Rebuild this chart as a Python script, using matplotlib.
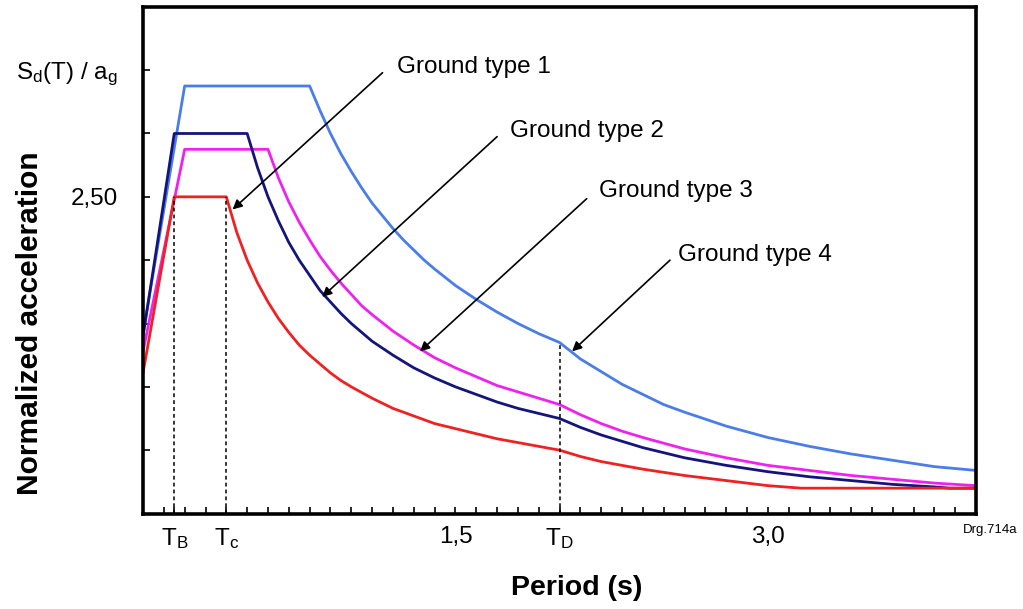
import matplotlib
matplotlib.use("Agg")
import matplotlib.pyplot as plt
import numpy as np

plt.rcParams['font.family'] = ['Liberation Sans', 'DejaVu Sans']
plt.rcParams['mathtext.fontset'] = 'custom'
plt.rcParams['mathtext.rm'] = 'Liberation Sans'
plt.rcParams['mathtext.it'] = 'Liberation Sans:italic'
plt.rcParams['mathtext.bf'] = 'Liberation Sans:bold'
plt.rcParams['mathtext.default'] = 'regular'

# periods (s) and normalized spectral values
t_red = [0, 0.15, 0.4, 0.45, 0.5, 0.55, 0.6, 0.65, 0.7, 0.75, 0.8, 0.85, 0.9, 0.95, 1.0, 1.1, 1.2, 1.3, 1.4,
         1.5, 1.6, 1.7, 1.8, 1.9, 2.0, 2.1, 2.2, 2.3, 2.4, 2.6, 2.8, 3.0, 3.16, 3.5, 4.0]
sd_red = [1.11, 2.5, 2.5, 2.22, 2.0, 1.82, 1.67, 1.54, 1.43, 1.33, 1.25, 1.18, 1.11, 1.05, 1.0, 0.91, 0.83, 0.77, 0.71,
          0.67, 0.63, 0.59, 0.56, 0.53, 0.5, 0.45, 0.41, 0.38, 0.35, 0.30, 0.26, 0.22, 0.2, 0.2, 0.2]

t_navy = [0, 0.15, 0.5, 0.55, 0.6, 0.65, 0.7, 0.75, 0.8, 0.85, 0.9, 0.95, 1.0, 1.05, 1.1, 1.2, 1.3, 1.4, 1.5,
          1.6, 1.7, 1.8, 1.9, 2.0, 2.1, 2.2, 2.3, 2.4, 2.6, 2.8, 3.0, 3.2, 3.4, 3.6, 3.8, 3.87, 4.0]
sd_navy = [1.40, 3.0, 3.0, 2.73, 2.5, 2.31, 2.14, 2.0, 1.88, 1.76, 1.67, 1.58, 1.5, 1.43, 1.36, 1.25, 1.15, 1.07, 1.0,
           0.94, 0.88, 0.83, 0.79, 0.75, 0.68, 0.62, 0.57, 0.52, 0.44, 0.38, 0.33, 0.29, 0.26, 0.23, 0.21, 0.2, 0.2]

t_pink = [0, 0.2, 0.6, 0.65, 0.7, 0.75, 0.8, 0.85, 0.9, 0.95, 1.0, 1.05, 1.1, 1.2, 1.3, 1.4, 1.5, 1.6,
          1.7, 1.8, 1.9, 2.0, 2.1, 2.2, 2.3, 2.4, 2.6, 2.8, 3.0, 3.2, 3.4, 3.6, 3.8, 4.0]
sd_pink = [1.28, 2.875, 2.875, 2.65, 2.46, 2.30, 2.16, 2.03, 1.92, 1.82, 1.73, 1.64, 1.57, 1.44, 1.33, 1.23, 1.15, 1.08,
           1.01, 0.96, 0.91, 0.86, 0.78, 0.71, 0.65, 0.60, 0.51, 0.44, 0.38, 0.34, 0.30, 0.27, 0.24, 0.22]

t_blue = [0, 0.2, 0.8, 0.85, 0.9, 0.95, 1.0, 1.05, 1.1, 1.15, 1.2, 1.25, 1.3, 1.35, 1.4, 1.5, 1.6, 1.7,
          1.8, 1.9, 2.0, 2.1, 2.2, 2.3, 2.4, 2.5, 2.6, 2.8, 3.0, 3.2, 3.4, 3.6, 3.8, 4.0]
sd_blue = [1.42, 3.375, 3.375, 3.18, 3.0, 2.84, 2.7, 2.57, 2.45, 2.35, 2.25, 2.16, 2.08, 2.0, 1.93, 1.8, 1.69, 1.59,
           1.5, 1.42, 1.35, 1.22, 1.12, 1.02, 0.94, 0.86, 0.80, 0.69, 0.60, 0.53, 0.47, 0.42, 0.37, 0.34]

T_B, T_C, T_D = 0.15, 0.4, 2.0
x_labels = ['T$_B$', 'T$_c$', '1,5', 'T$_D$', '3,0']
x_label_pos = [0.15, 0.4, 1.5, 2.0, 3.0]

fig = plt.figure(figsize=(10.23, 6.09), dpi=100)
ax = fig.add_axes([0.1398, 0.1568, 0.8144, 0.832])

ax.plot(t_blue, sd_blue, color='#4a7de8', lw=2)
ax.plot(t_pink, sd_pink, color='#ee22ee', lw=2)
ax.plot(t_navy, sd_navy, color='#14147a', lw=2)
ax.plot(t_red, sd_red, color='#ee2222', lw=2)

# dashed guides for the corner periods
dash = (0, (2.5, 2))
ax.plot([T_B, T_B], [0, 2.5], color='black', ls=dash, lw=1.1)
ax.plot([T_C, T_C], [0, 2.5], color='black', ls=dash, lw=1.1)
ax.plot([T_D, T_D], [0, 1.35], color='black', ls=dash, lw=1.1)

ax.set_xlim(0, 4.0)
ax.set_ylim(0, 4.0)

ax.set_xticks(x_label_pos)
ax.set_xticklabels(x_labels)
ax.set_xticks(np.arange(0.1, 4.0, 0.1), minor=True)
ax.set_yticks([0.5, 1.0, 1.5, 2.0, 2.5, 3.0, 3.5])
ax.set_yticklabels(['', '', '', '', '2,50', '', 'S$_d$(T) / a$_g$'])
ax.tick_params(axis='both', which='both', direction='in', length=5, width=1.2, labelsize=17.5)
ax.tick_params(axis='x', pad=9)
ax.tick_params(axis='y', pad=18)
for s in ax.spines.values():
    s.set_linewidth(2.6)

# ground type labels with arrows
labels = ['Ground type 1', 'Ground type 2', 'Ground type 3', 'Ground type 4']
text_pos = [(1.22, 3.48), (1.76, 2.975), (2.19, 2.50), (2.57, 1.99)]
arrow_start = [(1.15, 3.48), (1.70, 2.975), (2.13, 2.485), (2.53, 2.0)]
arrow_tip = [(0.43, 2.40), (0.86, 1.71), (1.33, 1.28), (2.06, 1.28)]
for lab, tp, st, tip in zip(labels, text_pos, arrow_start, arrow_tip):
    ax.text(tp[0], tp[1], lab, fontsize=17.5, va='baseline', ha='left')
    ax.annotate('', xy=tip, xytext=st,
                arrowprops=dict(arrowstyle='-|>', color='black', lw=1.2,
                                mutation_scale=14, shrinkA=0, shrinkB=0))

fig.text(30 / 1023, 1 - 323 / 609, 'Normalized acceleration', rotation=90,
         fontsize=21.5, fontweight='bold', ha='center', va='center')
fig.text(577 / 1023, 1 - 588 / 609, 'Period (s)', fontsize=20.5,
         fontweight='bold', ha='center', va='center')
fig.text(1017 / 1023, 1 - 530 / 609, 'Drg.714a', fontsize=9.5, ha='right', va='center')

fig.savefig('out.png', dpi=100)
